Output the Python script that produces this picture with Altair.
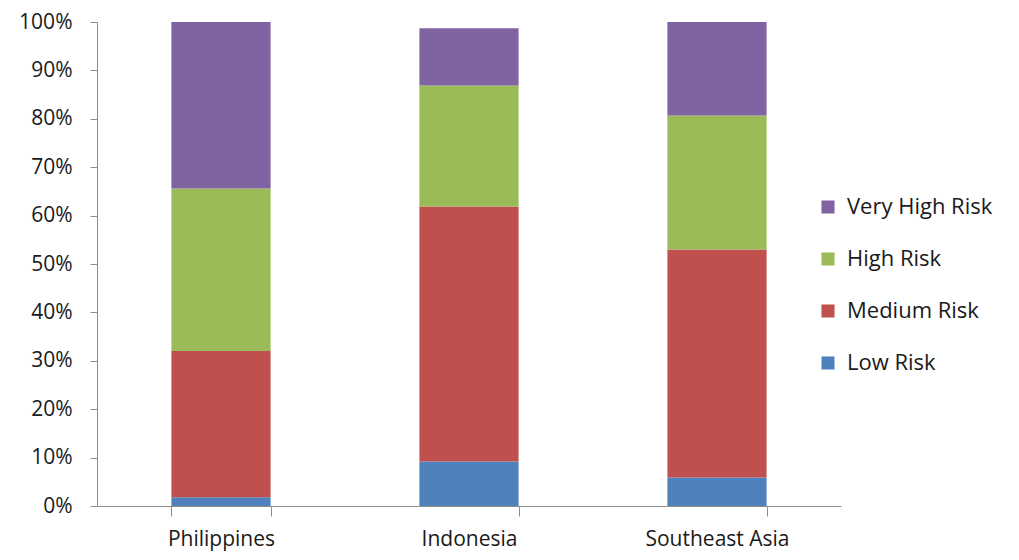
import altair as alt
import pandas as pd

regions = ["Philippines", "Indonesia", "Southeast Asia"]
risks = ["Very High Risk", "High Risk", "Medium Risk", "Low Risk"]
low = [1.8, 9.2, 5.9]
medium = [30.2, 52.7, 47.1]
high = [33.6, 25.0, 27.7]
very_high = [34.4, 11.8, 19.3]
colors = ["#8064A2", "#9BBB59", "#C0504D", "#4F81BD"]

rows = []
for i, r in enumerate(regions):
    for k, (name, vals) in enumerate([("Low Risk", low), ("Medium Risk", medium),
                                      ("High Risk", high), ("Very High Risk", very_high)]):
        rows.append({"region": r, "risk": name, "value": vals[i] / 100.0, "ord": k})
df = pd.DataFrame(rows)

font = "Open Sans"

chart = alt.Chart(df).mark_bar().encode(
    x=alt.X("region:N", sort=regions, title=None,
            scale=alt.Scale(paddingInner=0.6, paddingOuter=0.3),
            axis=alt.Axis(labelAngle=0, tickBand="extent", tickSize=10,
                          labelPadding=12, labelFontSize=21, labelFont=font,
                          labelColor="#1a1a1a", domainColor="#8c8c8c",
                          tickColor="#8c8c8c", grid=False)),
    y=alt.Y("value:Q", stack="zero", title=None,
            scale=alt.Scale(domain=[0, 1], nice=False),
            axis=alt.Axis(format=".0%", values=[i / 10 for i in range(11)],
                          tickSize=7, labelPadding=18, labelFontSize=21,
                          labelFont=font, labelColor="#1a1a1a",
                          domainColor="#8c8c8c", tickColor="#8c8c8c", grid=False)),
    color=alt.Color("risk:N", scale=alt.Scale(domain=risks, range=colors),
                    legend=alt.Legend(title=None, orient="none", legendX=720, legendY=174,
                                      symbolType="square", symbolSize=170,
                                      symbolStrokeWidth=0, labelFontSize=22,
                                      labelFont=font, labelColor="#1a1a1a",
                                      rowPadding=30, labelOffset=8, labelLimit=300)),
    order=alt.Order("ord:Q", sort="ascending"),
).properties(
    width=744, height=484,
    autosize=alt.AutoSizeParams(type="none"),
    padding={"left": 89, "top": 14, "right": 170, "bottom": 46},
).configure_view(stroke=None)

chart.save("out.html", embed_options={"renderer": "svg", "actions": False})
